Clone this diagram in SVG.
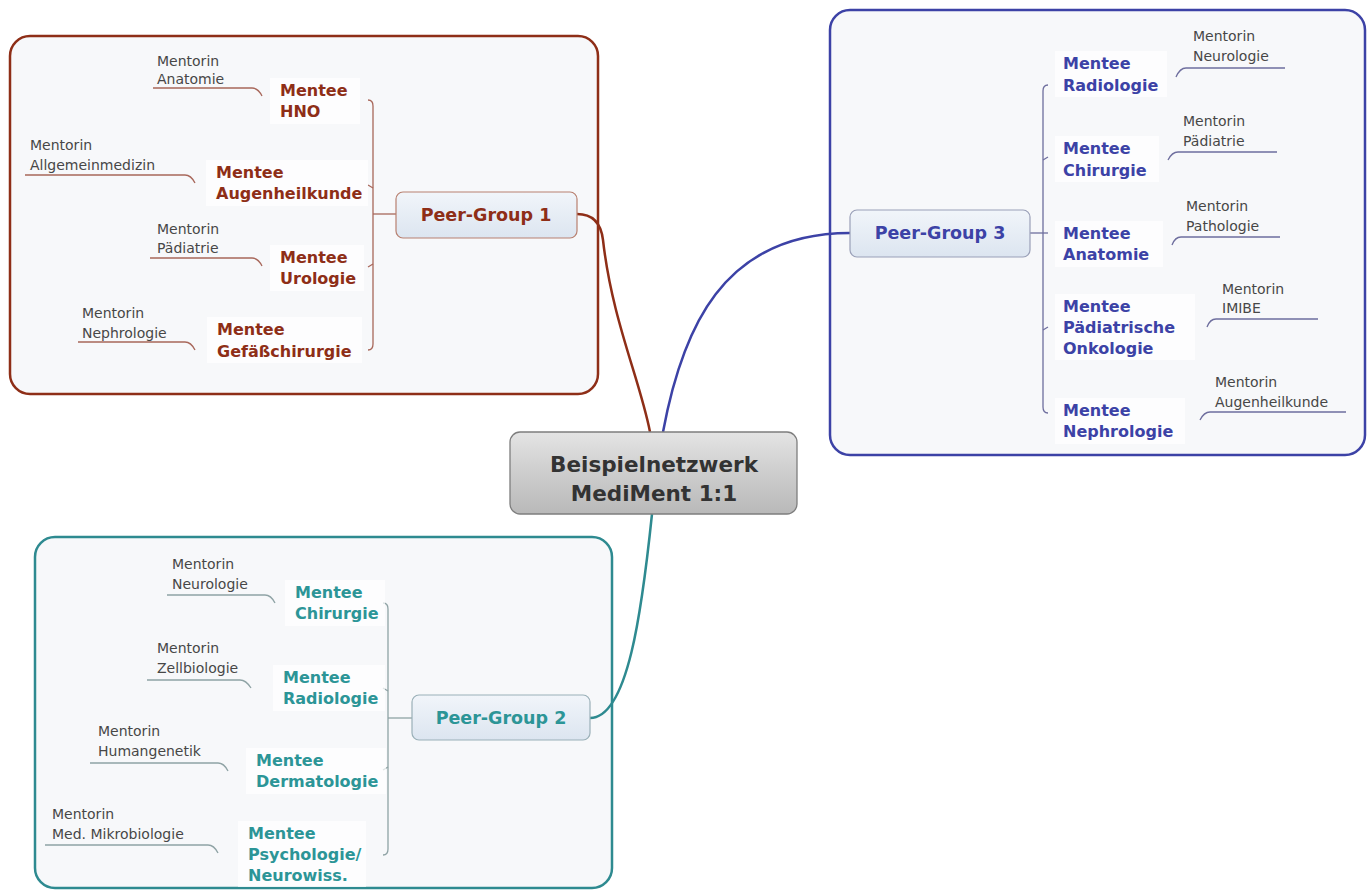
<svg xmlns="http://www.w3.org/2000/svg" width="1369" height="893" viewBox="0 0 1369 893">
<defs>
<linearGradient id="gCenter" x1="0" y1="0" x2="0" y2="1">
<stop offset="0" stop-color="#E4E4E4"/><stop offset="0.5" stop-color="#CDCDCD"/><stop offset="1" stop-color="#B9B9B9"/>
</linearGradient>
<linearGradient id="gPeer" x1="0" y1="0" x2="0" y2="1">
<stop offset="0" stop-color="#F1F5FA"/><stop offset="1" stop-color="#DCE5F0"/>
</linearGradient>
</defs>
<style>
.mentor{font-family:"DejaVu Sans","Liberation Sans",sans-serif;font-size:14px;fill:#474747}
.mentee{font-family:"DejaVu Sans","Liberation Sans",sans-serif;font-size:16px;font-weight:bold}
.peer{font-family:"DejaVu Sans","Liberation Sans",sans-serif;font-size:17.5px;font-weight:bold;text-anchor:middle}
.c1{fill:#8E2E17}.c2{fill:#2C9597}.c3{fill:#3C42A6}
.box{fill:#F7F8FA;stroke-width:2.5}
.pbox{fill:url(#gPeer);stroke-width:1.2}
.ln{fill:none;stroke-width:1.3}
.main{fill:none;stroke-width:2.5}
.bg{fill:#FFFFFF;opacity:0.7}
</style>
<rect width="1369" height="893" fill="#FFFFFF"/>

<!-- group boxes -->
<g id="group1">
<rect class="box" x="10" y="36" width="588" height="358" rx="20" stroke="#8E2E17"/>
</g>
<g id="group3">
<rect class="box" x="830" y="10" width="535" height="445" rx="20" stroke="#3C42A6"/>
</g>
<g id="group2">
<rect class="box" x="35" y="537" width="577" height="351" rx="20" stroke="#2E8A90"/>
</g>

<!-- connectors -->
<g id="connectors">
<path class="main" stroke="#8E2E17" d="M577,214 Q600,214 603,240 C612,320 640,380 650,432"/>
<path class="main" stroke="#3C42A6" d="M663,432 C682,330 722,233 850,233"/>
<path class="main" stroke="#2E8A90" d="M652,514 C642,610 628,718 590,718"/>
<!-- group1 bracket -->
<g stroke="#A8675A" class="ln">
<path d="M368,100 Q373,100 373,106 L373,344 Q373,350 368,350"/>
<path d="M373,214 L396,214"/>
<path d="M368,185 L373,188"/>
<path d="M368,267 L373,264"/>
<path d="M153,88 L252,88 Q258,88 262,96"/>
<path d="M25,175 L185,175 Q191,175 195,183"/>
<path d="M150,258 L252,258 Q258,258 262,266"/>
<path d="M78,342 L185,342 Q191,342 195,350"/>
</g>
<!-- group3 bracket -->
<g stroke="#6E6E9E" class="ln">
<path d="M1048,85 Q1043,85 1043,91 L1043,407 Q1043,413 1048,413"/>
<path d="M1030,233 L1048,233"/>
<path d="M1043,160 L1048,157"/>
<path d="M1043,330 L1048,327"/>
<path d="M1285,68 L1186,68 Q1180,68 1176,77"/>
<path d="M1277,152 L1178,152 Q1172,152 1168,160"/>
<path d="M1280,237 L1181,237 Q1175,237 1172,245"/>
<path d="M1318,319 L1216,319 Q1210,319 1207,327"/>
<path d="M1346,412 L1210,412 Q1204,412 1200,420"/>
</g>
<!-- group2 bracket -->
<g stroke="#8FA3A5" class="ln">
<path d="M383,603 Q388,603 388,609 L388,849 Q388,855 383,855"/>
<path d="M388,718 L412,718"/>
<path d="M383,688 L388,691"/>
<path d="M383,770 L388,767"/>
<path d="M167,595 L265,595 Q271,595 275,603"/>
<path d="M147,680 L240,680 Q246,680 251,688"/>
<path d="M90,763 L218,763 Q224,763 228,771"/>
<path d="M45,845 L208,845 Q214,845 218,853"/>
</g>
</g>

<!-- center node -->
<g id="center">
<rect x="510" y="432" width="287" height="82" rx="10" fill="url(#gCenter)" stroke="#7E7E7E" stroke-width="1.3"/>
<text x="654" y="472" font-family="DejaVu Sans, sans-serif" font-size="21.5" font-weight="bold" fill="#333333" text-anchor="middle">Beispielnetzwerk</text>
<text x="654" y="501" font-family="DejaVu Sans, sans-serif" font-size="21.5" font-weight="bold" fill="#333333" text-anchor="middle">MediMent 1:1</text>
</g>

<!-- peer group nodes -->
<g id="peer1">
<rect class="pbox" x="396" y="192" width="181" height="46" rx="7" stroke="#B88070"/>
<text class="peer c1" x="486" y="221">Peer-Group 1</text>
</g>
<g id="peer3">
<rect class="pbox" x="850" y="210" width="180" height="47" rx="7" stroke="#9AA0B8"/>
<text class="peer c3" x="940" y="239">Peer-Group 3</text>
</g>
<g id="peer2">
<rect class="pbox" x="412" y="695" width="178" height="45" rx="7" stroke="#9AB0B8"/>
<text class="peer c2" x="501" y="724">Peer-Group 2</text>
</g>

<!-- group 1 entries -->
<g id="g1-hno">
<rect class="bg" x="270" y="78" width="90" height="46"/>
<text class="mentor" x="157" y="66">Mentorin</text><text class="mentor" x="157" y="84">Anatomie</text>
<text class="mentee c1" x="280" y="96">Mentee</text><text class="mentee c1" x="280" y="117">HNO</text>
</g>
<g id="g1-augen">
<rect class="bg" x="206" y="160" width="162" height="46"/>
<text class="mentor" x="30" y="150">Mentorin</text><text class="mentor" x="30" y="170">Allgemeinmedizin</text>
<text class="mentee c1" x="216" y="178">Mentee</text><text class="mentee c1" x="216" y="199">Augenheilkunde</text>
</g>
<g id="g1-uro">
<rect class="bg" x="270" y="245" width="94" height="46"/>
<text class="mentor" x="157" y="234">Mentorin</text><text class="mentor" x="157" y="253">Pädiatrie</text>
<text class="mentee c1" x="280" y="263">Mentee</text><text class="mentee c1" x="280" y="284">Urologie</text>
</g>
<g id="g1-gef">
<rect class="bg" x="207" y="317" width="155" height="46"/>
<text class="mentor" x="82" y="318">Mentorin</text><text class="mentor" x="82" y="338">Nephrologie</text>
<text class="mentee c1" x="217" y="335">Mentee</text><text class="mentee c1" x="217" y="357">Gefäßchirurgie</text>
</g>

<!-- group 3 entries -->
<g id="g3-radio">
<rect class="bg" x="1055" y="51" width="112" height="46"/>
<text class="mentor" x="1193" y="41">Mentorin</text><text class="mentor" x="1193" y="61">Neurologie</text>
<text class="mentee c3" x="1063" y="69">Mentee</text><text class="mentee c3" x="1063" y="91">Radiologie</text>
</g>
<g id="g3-chir">
<rect class="bg" x="1055" y="136" width="104" height="46"/>
<text class="mentor" x="1183" y="126">Mentorin</text><text class="mentor" x="1183" y="146">Pädiatrie</text>
<text class="mentee c3" x="1063" y="154">Mentee</text><text class="mentee c3" x="1063" y="176">Chirurgie</text>
</g>
<g id="g3-anat">
<rect class="bg" x="1055" y="221" width="108" height="46"/>
<text class="mentor" x="1186" y="211">Mentorin</text><text class="mentor" x="1186" y="231">Pathologie</text>
<text class="mentee c3" x="1063" y="239">Mentee</text><text class="mentee c3" x="1063" y="260">Anatomie</text>
</g>
<g id="g3-onko">
<rect class="bg" x="1055" y="294" width="140" height="66"/>
<text class="mentor" x="1222" y="294">Mentorin</text><text class="mentor" x="1222" y="313">IMIBE</text>
<text class="mentee c3" x="1063" y="312">Mentee</text><text class="mentee c3" x="1063" y="333">Pädiatrische</text><text class="mentee c3" x="1063" y="354">Onkologie</text>
</g>
<g id="g3-nephro">
<rect class="bg" x="1055" y="398" width="130" height="46"/>
<text class="mentor" x="1215" y="387">Mentorin</text><text class="mentor" x="1215" y="407">Augenheilkunde</text>
<text class="mentee c3" x="1063" y="416">Mentee</text><text class="mentee c3" x="1063" y="437">Nephrologie</text>
</g>

<!-- group 2 entries -->
<g id="g2-chir">
<rect class="bg" x="285" y="580" width="100" height="46"/>
<text class="mentor" x="172" y="569">Mentorin</text><text class="mentor" x="172" y="589">Neurologie</text>
<text class="mentee c2" x="295" y="598">Mentee</text><text class="mentee c2" x="295" y="619">Chirurgie</text>
</g>
<g id="g2-radio">
<rect class="bg" x="273" y="665" width="112" height="46"/>
<text class="mentor" x="157" y="653">Mentorin</text><text class="mentor" x="157" y="673">Zellbiologie</text>
<text class="mentee c2" x="283" y="683">Mentee</text><text class="mentee c2" x="283" y="704">Radiologie</text>
</g>
<g id="g2-derma">
<rect class="bg" x="246" y="748" width="140" height="46"/>
<text class="mentor" x="98" y="736">Mentorin</text><text class="mentor" x="98" y="756">Humangenetik</text>
<text class="mentee c2" x="256" y="766">Mentee</text><text class="mentee c2" x="256" y="787">Dermatologie</text>
</g>
<g id="g2-psych">
<rect class="bg" x="238" y="821" width="128" height="66"/>
<text class="mentor" x="52" y="819">Mentorin</text><text class="mentor" x="52" y="839">Med. Mikrobiologie</text>
<text class="mentee c2" x="248" y="839">Mentee</text><text class="mentee c2" x="248" y="860">Psychologie/</text><text class="mentee c2" x="248" y="881">Neurowiss.</text>
</g>
</svg>
